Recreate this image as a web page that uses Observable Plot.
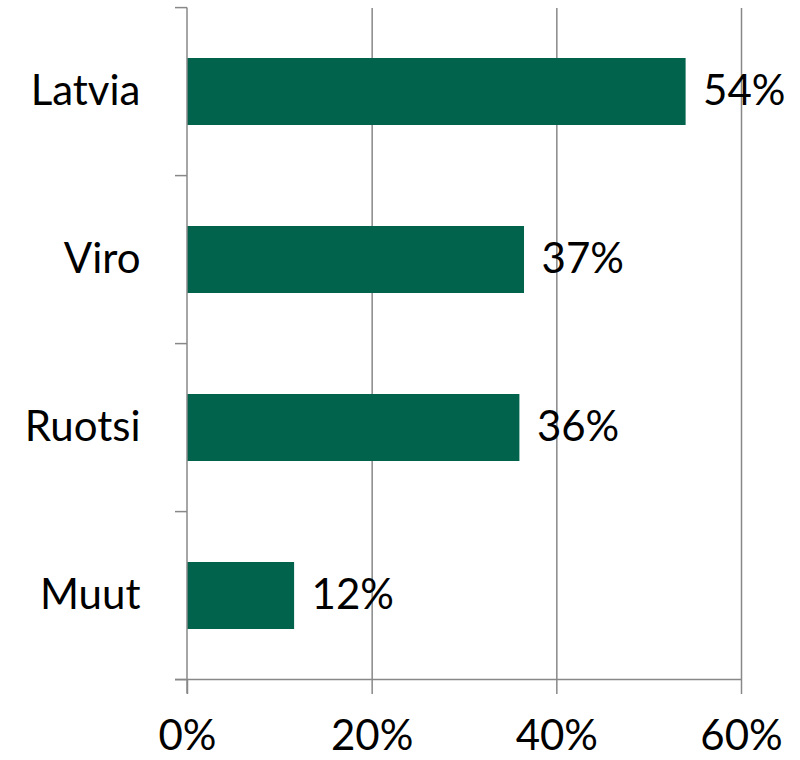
<!DOCTYPE html>
<html><head><meta charset="utf-8">
<script src="https://cdn.jsdelivr.net/npm/d3@7"></script>
<script src="https://cdn.jsdelivr.net/npm/@observablehq/plot@0.6"></script>
<style>body{margin:0;background:#fff} svg{display:block}</style>
</head><body><div id="chart"></div>
<script>
const categories = ["Latvia", "Viro", "Ruotsi", "Muut"];
const values = [0.54, 0.365, 0.36, 0.116];
const valueLabels = ["54%", "37%", "36%", "12%"];
const xTicks = [0, 0.2, 0.4, 0.6];

const data = categories.map((c, i) => ({category: c, value: values[i], label: valueLabels[i]}));
const FONT = "Lato, 'Open Sans', sans-serif";
const FS = 42;
const INNER = 0.6;

const frameMark = (index, scales) => {
  const y = scales.y, x = scales.x;
  const step = y(categories[1]) - y(categories[0]);
  const gap = step * INNER;
  const bounds = categories.map(c => y(c) - gap / 2);
  bounds.push(y(categories[categories.length - 1]) + step - gap / 2);
  const g = d3.create("svg:g").attr("stroke", "#888").attr("stroke-width", 1.5);
  const x0 = x(0);
  const last = bounds[bounds.length - 1];
  g.append("line").attr("x1", x0).attr("x2", x0).attr("y1", bounds[0]).attr("y2", last + 14);
  bounds.forEach(b => g.append("line").attr("x1", x0 - 12).attr("x2", x0).attr("y1", b).attr("y2", b));
  g.append("line").attr("x1", x0 - 12).attr("x2", x(xTicks[xTicks.length - 1])).attr("y1", last).attr("y2", last);
  return g.node();
};

const chart = Plot.plot({
  width: 800,
  height: 760,
  marginTop: 8,
  marginBottom: 80,
  marginLeft: 187,
  marginRight: 59,
  style: {fontFamily: FONT, background: "#fff"},
  x: {domain: [0, 0.6]},
  y: {domain: categories, paddingInner: INNER, paddingOuter: INNER / 2},
  marks: [
    Plot.gridX({ticks: xTicks.slice(1), stroke: "#888", strokeOpacity: 1, strokeWidth: 1.5}),
    Plot.barX(data, {x: "value", y: "category", fill: "#02634c"}),
    frameMark,
    Plot.axisX({ticks: xTicks, tickFormat: d => Math.round(d * 100) + "%", tickSize: 14, tickPadding: 26,
      fontSize: FS, stroke: "#888", strokeOpacity: 1, strokeWidth: 1.5, fill: "#000", label: null}),
    Plot.axisY({tickSize: 0, tickPadding: 47, fontSize: FS, fill: "#000", label: null}),
    Plot.text(data, {x: "value", y: "category", text: "label", textAnchor: "start", dx: 17, fontSize: FS, fill: "#000"})
  ]
});
document.getElementById("chart").append(chart);
</script>
</body></html>
